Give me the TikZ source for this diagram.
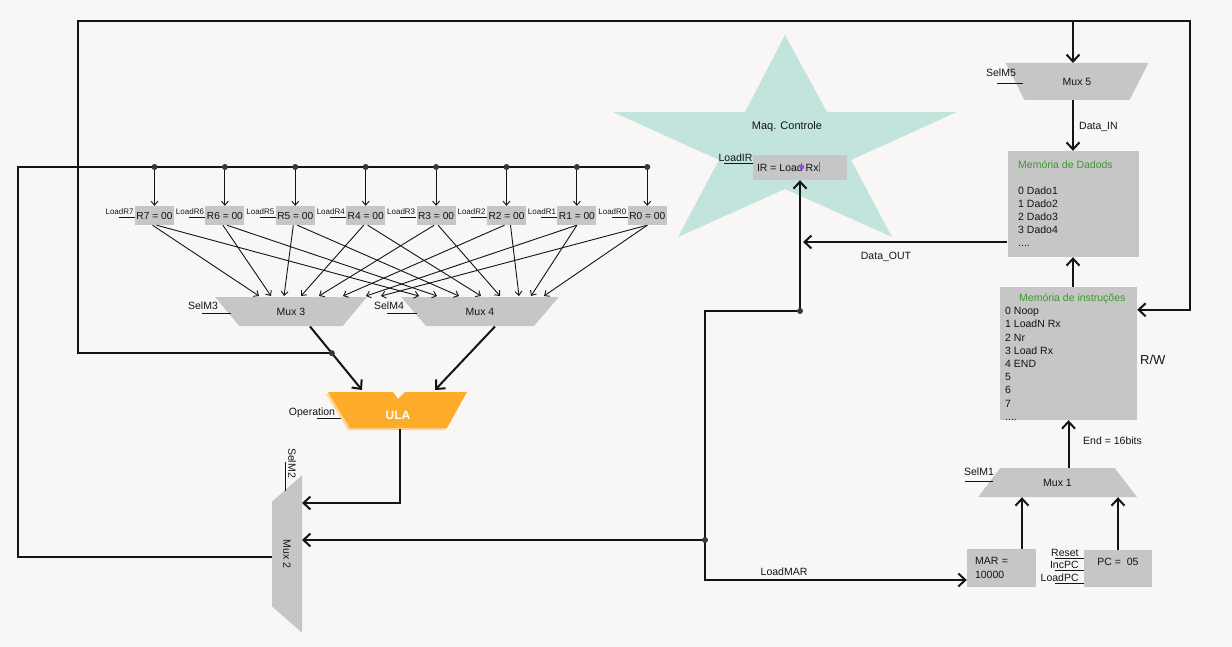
\documentclass[tikz,border=0pt]{standalone}
\usepackage{fontspec}
\setmainfont{Liberation Sans}
\usepackage{tikz}
\usetikzlibrary{arrows.meta,positioning,shapes.geometric}

\definecolor{paper}{RGB}{248,247,245}
\definecolor{boxgray}{RGB}{198,198,198}
\definecolor{starteal}{RGB}{195,227,221}
\definecolor{ulaorange}{RGB}{252,171,42}
\definecolor{ulashade}{RGB}{253,212,150}
\definecolor{memgreen}{RGB}{62,150,46}
\definecolor{ink}{RGB}{20,20,20}
\definecolor{dotgray}{RGB}{55,55,55}
\definecolor{cursorviolet}{RGB}{140,80,230}
\newcommand{\fsz}[1]{\fontsize{#1}{#1}\selectfont}

\begin{document}
\begin{tikzpicture}[x=1pt,y=-1pt
  ,>={Straight Barb[length=7pt,width=13pt]}
  ,node distance=31pt
  ,font=\fsz{10.5}
  ,text=ink]
  \tikzstyle{reg}=[fill=boxgray, minimum width=39pt, minimum height=19pt,
    inner sep=0pt, font=\fsz{10.2}]
  \tikzstyle{mux}=[trapezium, trapezium stretches=true, fill=boxgray,
    inner sep=0pt]
  \tikzstyle{membox}=[fill=boxgray, inner sep=0pt]
  \tikzstyle{lbl}=[inner sep=0pt]
  \tikzstyle{ldlbl}=[inner sep=0pt, font=\fsz{8}, anchor=south east]
  \tikzstyle{sig}=[draw=ink, line width=0.9pt]
  \tikzstyle{bus}=[draw=ink, line width=2pt]
  \tikzstyle{wire}=[draw=ink, line width=2pt, ->]
  \tikzstyle{fanin}=[draw=ink, line width=0.9pt,
    -{Straight Barb[length=4pt,width=7pt]}]
  \tikzstyle{jdot}=[circle, fill=dotgray, inner sep=0pt, minimum size=6pt]

  \fill[paper] (0,0) rectangle (1232,647);
  \useasboundingbox (0,0) rectangle (1232,647);

  % control unit
  \fill[starteal] (785,35) -- (827,112) -- (957,112) -- (851,160) -- (892,237)
    -- (785,189) -- (678,237) -- (719,160) -- (613,112) -- (745,112) -- cycle;
  \node[lbl, font=\fsz{11}] (maq) at (787,127) {Maq. Controle};
  \node[membox, minimum width=94pt, minimum height=25pt] (ir) at (800,167.5) {};
  \node[lbl, anchor=west] (irtxt) at ([xshift=4pt]ir.west) {IR = Load Rx};
  \fill[cursorviolet] ([xshift=45pt,yshift=0.5pt]irtxt.west) circle (2.5pt);
  \draw[cursorviolet, line width=1pt] ([xshift=1pt,yshift=5pt]irtxt.east) -- ++(0,10);
  \node[lbl] (ldir) at (735.5,158) {LoadIR};
  \draw[sig] ([xshift=-11.5pt,yshift=-5pt]ldir.center) -- ++(29,0);

  % register file
  \node[reg] (r7) at (154.5,215.5) {R7 = 00};
  \node[reg, right=of r7] (r6) {R6 = 00};
  \node[reg, right=of r6] (r5) {R5 = 00};
  \node[reg, right=of r5] (r4) {R4 = 00};
  \node[reg, right=of r4] (r3) {R3 = 00};
  \node[reg, right=of r3] (r2) {R2 = 00};
  \node[reg, right=of r2] (r1) {R1 = 00};
  \node[reg, right=of r1] (r0) {R0 = 00};
  \node[ldlbl] (ld7) at ([xshift=-1pt,yshift=1pt]r7.west) {LoadR7};
  \node[ldlbl] (ld6) at ([xshift=-1pt,yshift=1pt]r6.west) {LoadR6};
  \node[ldlbl] (ld5) at ([xshift=-1pt,yshift=1pt]r5.west) {LoadR5};
  \node[ldlbl] (ld4) at ([xshift=-1pt,yshift=1pt]r4.west) {LoadR4};
  \node[ldlbl] (ld3) at ([xshift=-1pt,yshift=1pt]r3.west) {LoadR3};
  \node[ldlbl] (ld2) at ([xshift=-1pt,yshift=1pt]r2.west) {LoadR2};
  \node[ldlbl] (ld1) at ([xshift=-1pt,yshift=1pt]r1.west) {LoadR1};
  \node[ldlbl] (ld0) at ([xshift=-1pt,yshift=1pt]r0.west) {LoadR0};
  \draw[sig] ([xshift=-16pt,yshift=-1.5pt]r7.west) -- ++(16,0)
             ([xshift=-16pt,yshift=-1.5pt]r6.west) -- ++(16,0)
             ([xshift=-16pt,yshift=-1.5pt]r5.west) -- ++(16,0)
             ([xshift=-16pt,yshift=-1.5pt]r4.west) -- ++(16,0)
             ([xshift=-16pt,yshift=-1.5pt]r3.west) -- ++(16,0)
             ([xshift=-16pt,yshift=-1.5pt]r2.west) -- ++(16,0)
             ([xshift=-16pt,yshift=-1.5pt]r1.west) -- ++(16,0)
             ([xshift=-16pt,yshift=-1.5pt]r0.west) -- ++(16,0);

  % muxes
  \node[mux, shape border rotate=180, trapezium angle=48,
    minimum width=152pt, minimum height=29pt] (m3) at (291,311.5) {Mux 3};
  \node[mux, shape border rotate=180, trapezium angle=48,
    minimum width=158pt, minimum height=29pt] (m4) at (480,311.5) {Mux 4};
  \node[mux, rotate=-90, shape border rotate=180, trapezium angle=46,
    minimum width=158pt, minimum height=30pt] (m2) at (287,554) {Mux 2};
  \node[mux, shape border rotate=180, trapezium angle=55,
    minimum width=143pt, minimum height=37pt] (m5) at (1077,81.5) {Mux 5};
  \node[mux, trapezium angle=53,
    minimum width=159pt, minimum height=29pt] (m1) at (1057.5,482.5) {Mux 1};
  \node[lbl] (selm3) at (203,306) {SelM3};
  \node[lbl] (selm4) at (389,306) {SelM4};
  \node[lbl, rotate=-90] (selm2) at (292,463) {SelM2};
  \node[lbl] (selm5) at (1001,73) {SelM5};
  \node[lbl] (selm1) at (979,472) {SelM1};
  \node[lbl] (oper) at (312,413) {Operation};
  \draw[sig] ([xshift=-1pt,yshift=-7pt]selm3.center) -- ++(29,0)
             ([xshift=-2pt,yshift=-7pt]selm4.center) -- ++(30,0)
             ([xshift=-7pt,yshift=1pt]selm2.center) -- ++(0,29)
             ([xshift=-4pt,yshift=-10pt]selm5.center) -- ++(26,0)
             ([xshift=-14pt,yshift=-9pt]selm1.center) -- ++(28,0)
             ([xshift=5pt,yshift=-5pt]oper.center) -- ++(26,0);

  % ULA
  \fill[ulashade] (326,394) -- (391,394) -- (396,401) -- (403,394) -- (465,394)
    -- (445,430) -- (348,430) -- cycle;
  \fill[ulaorange] (328,392) -- (393,392) -- (398,399) -- (405,392) -- (467,392)
    -- (447,428) -- (350,428) -- cycle;
  \node[lbl, font=\bfseries\fsz{12}, text=white] (ula) at (398,415) {ULA};
  \coordinate (ulaA) at (362,390);
  \coordinate (ulaB) at (435,390);
  \coordinate (ulaout) at (400,429);

  % memories
  \node[membox, minimum width=131pt, minimum height=106pt] (md) at (1073,204) {};
  \node[lbl, align=left, anchor=north west,
    font=\fontsize{10.5}{13}\selectfont] (mdtxt) at (1018,160.5)
    {\textcolor{memgreen}{Memória de Dadods}\\[13pt]0 Dado1\\1 Dado2\\2 Dado3\\3 Dado4\\....};
  \node[membox, minimum width=137pt, minimum height=133pt] (mi) at (1068.5,353.5) {};
  \node[lbl, align=left, anchor=north west,
    font=\fontsize{10.5}{13.2}\selectfont] (mitxt) at (1005,293.5)
    {\hspace*{14pt}\textcolor{memgreen}{Memória de instruções}\\0 Noop\\1 LoadN Rx\\2 Nr\\3 Load Rx\\4 END\\5\\6\\7\\....};
  \node[membox, minimum width=69pt, minimum height=38pt, text width=53pt,
    align=left, font=\fontsize{10.5}{13.5}\selectfont] (mar) at (1001.5,568) {MAR =\\10000};
  \node[membox, minimum width=68pt, minimum height=37pt] (pc) at (1118,568.5) {};
  \node[lbl] (pctxt) at ([yshift=7pt]pc.center) {PC = \ 05};
  \node[ldlbl, font=\fsz{10.5}] (rst) at ([xshift=-5pt,yshift=11.5pt]pc.west) {Reset};
  \node[ldlbl, font=\fsz{10.5}] (incpc) at ([xshift=-5pt,yshift=-0.5pt]pc.west) {IncPC};
  \node[ldlbl, font=\fsz{10.5}] (ldpc) at ([xshift=-5pt,yshift=-13.5pt]pc.west) {LoadPC};
  \draw[sig] ([xshift=-29pt,yshift=10.5pt]pc.west) -- ++(29,0)
             ([xshift=-29pt,yshift=-1.5pt]pc.west) -- ++(29,0)
             ([xshift=-29pt,yshift=-14.5pt]pc.west) -- ++(29,0);

  % wire labels
  \node[lbl, anchor=west] (datain) at (1079,127) {Data\_IN};
  \node[lbl] (dataout) at (886,257) {Data\_OUT};
  \node[lbl] (loadmar) at (784,572) {LoadMAR};
  \node[lbl, anchor=west] (endbits) at (1083,441) {End = 16bits};
  \node[lbl, anchor=west, font=\fsz{13}] (rw) at (1140,360) {R/W};

  % registers into mux 3 and mux 4
  \path ([xshift=-2pt]r7.south) edge[fanin] ([xshift=-32pt,yshift=15.5pt]m3.center)
        ([xshift=2pt]r7.south)  edge[fanin] ([xshift=-61pt,yshift=15.5pt]m4.center)
        ([xshift=-2pt]r6.south) edge[fanin] ([xshift=-20pt,yshift=15.5pt]m3.center)
        ([xshift=2pt]r6.south)  edge[fanin] ([xshift=-43pt,yshift=15.5pt]m4.center)
        ([xshift=-2pt]r5.south) edge[fanin] ([xshift=-7pt,yshift=15.5pt]m3.center)
        ([xshift=2pt]r5.south)  edge[fanin] ([xshift=-21pt,yshift=15.5pt]m4.center)
        ([xshift=-2pt]r4.south) edge[fanin] ([xshift=10pt,yshift=15.5pt]m3.center)
        ([xshift=2pt]r4.south)  edge[fanin] ([xshift=1pt,yshift=15.5pt]m4.center)
        ([xshift=-2pt]r3.south) edge[fanin] ([xshift=28pt,yshift=15.5pt]m3.center)
        ([xshift=2pt]r3.south)  edge[fanin] ([xshift=20pt,yshift=15.5pt]m4.center)
        ([xshift=-2pt]r2.south) edge[fanin] ([xshift=52pt,yshift=15.5pt]m3.center)
        ([xshift=4pt]r2.south)  edge[fanin] ([xshift=39pt,yshift=15.5pt]m4.center)
        (r1.south) edge[fanin] ([xshift=75pt,yshift=15.5pt]m3.center)
        (r1.south) edge[fanin] ([xshift=51pt,yshift=15.5pt]m4.center)
        (r0.south) edge[fanin] ([xshift=90pt,yshift=15.5pt]m3.center)
        (r0.south) edge[fanin] ([xshift=64pt,yshift=15.5pt]m4.center);

  % datapath wires
  \coordinate (busw) at (18,167);
  \coordinate (tl) at (78,21);
  \coordinate (tr) at (1190,21);
  \coordinate (miin) at ([yshift=-23pt]mi.north east);
  \coordinate (m2a) at ([xshift=15pt,yshift=51pt]m2.center);
  \coordinate (m2b) at ([xshift=15pt,yshift=14pt]m2.center);
  \coordinate (m5in) at ([xshift=-4pt,yshift=18.5pt]m5.center);
  \coordinate (marup) at ([xshift=20.5pt]mar.north);
  \coordinate (dout) at ([yshift=-38pt]md.west);
  \coordinate (j1) at (800,311);
  \coordinate (j2) at (705,540);

  \draw[bus] ([xshift=-15pt,yshift=-2.5pt]m2.center) -| (busw) -- (r0.north |- busw);
  \draw[wire] ([xshift=19pt,yshift=-15pt]m3.center) -- coordinate[pos=0.42] (j3) (ulaA);
  \draw[wire] ([xshift=15pt,yshift=-15pt]m4.center) -- (ulaB);
  \draw[wire] (j3) -| (tl) -- (tr) |- (miin);
  \draw[wire] (ulaout) |- (m2a);
  \path (m5in |- tl) edge[wire] (m5in)
        ([xshift=-4pt,yshift=-18.5pt]m5.center) edge[wire] (md.north)
        (md.south |- mi.north) edge[wire] (md.south)
        (mi.south |- m1.north) edge[wire] (mi.south)
        (marup) edge[wire] (marup |- m1.south)
        (pc.north) edge[wire] (pc.north |- m1.south);
  \draw[wire, shorten >=3pt] (dout) -- (dout -| ir.south);
  \draw[wire] (j1) -- (ir.south);
  \draw[bus] (j1) -| (j2);
  \draw[wire] (j2) -- (m2b);
  \draw[wire] (j2) |- ([yshift=-12pt]mar.west);

  % junction dots
  \node[jdot] (d7) at (r7.north |- busw) {};
  \node[jdot] (d6) at (r6.north |- busw) {};
  \node[jdot] (d5) at (r5.north |- busw) {};
  \node[jdot] (d4) at (r4.north |- busw) {};
  \node[jdot] (d3) at (r3.north |- busw) {};
  \node[jdot] (d2) at (r2.north |- busw) {};
  \node[jdot] (d1) at (r1.north |- busw) {};
  \node[jdot] (d0) at (r0.north |- busw) {};
  \node[jdot] (j1dot) at (j1) {};
  \node[jdot] (j2dot) at (j2) {};
  \node[jdot] (j3dot) at (j3) {};
  \path (d7) edge[fanin] (r7)
        (d6) edge[fanin] (r6)
        (d5) edge[fanin] (r5)
        (d4) edge[fanin] (r4)
        (d3) edge[fanin] (r3)
        (d2) edge[fanin] (r2)
        (d1) edge[fanin] (r1)
        (d0) edge[fanin] (r0);
\end{tikzpicture}
\end{document}
